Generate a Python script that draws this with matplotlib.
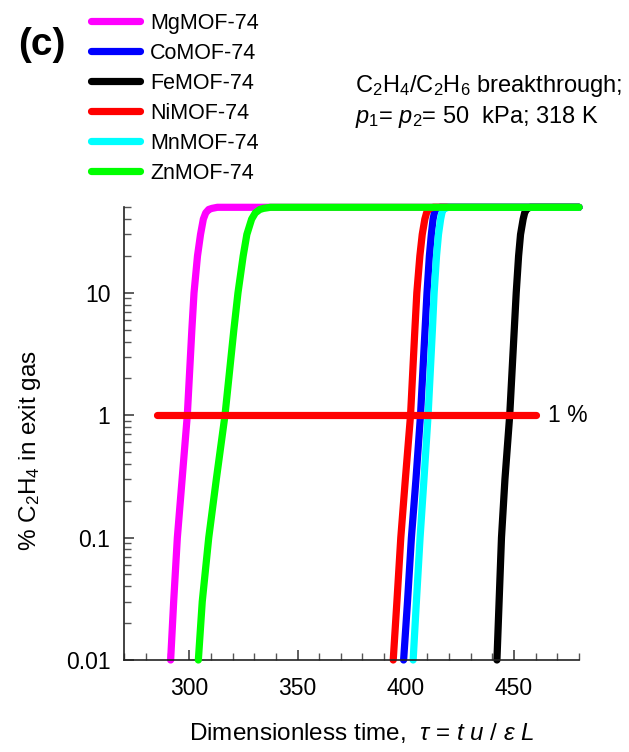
import matplotlib
matplotlib.use("Agg")
import matplotlib.pyplot as plt
from matplotlib.ticker import FixedLocator, FixedFormatter, NullFormatter

plt.rcParams['font.family'] = ['Liberation Sans', 'DejaVu Sans']
plt.rcParams['mathtext.fontset'] = 'custom'
plt.rcParams['mathtext.rm'] = 'Liberation Sans'
plt.rcParams['mathtext.it'] = 'Liberation Sans:italic'
plt.rcParams['mathtext.bf'] = 'Liberation Sans:bold'

# ---- data ----
materials = ["MgMOF-74", "CoMOF-74", "FeMOF-74", "NiMOF-74", "MnMOF-74", "ZnMOF-74"]
colors = ["#FF00FF", "#0000FF", "#000000", "#FF0000", "#00FFFF", "#00FF00"]
y_levels = [0.01, 0.03, 0.1, 0.3, 1, 5, 10, 20, 30, 40, 45, 48, 49, 50, 50]
tau_mg = [291.4, 292.8, 294.5, 296.7, 299.1, 301.2, 302.2, 303.8, 305.2, 306.5, 307.6, 309.0, 310.5, 313.0, 480]
tau_co = [399.0, 400.8, 402.6, 404.7, 406.8, 408.9, 409.8, 410.9, 411.8, 412.6, 413.2, 413.8, 414.6, 415.9, 480]
tau_fe = [442.1, 443.1, 444.2, 445.8, 448.0, 450.1, 451.0, 452.1, 453.0, 454.2, 454.9, 455.7, 456.4, 457.5, 480]
tau_ni = [394.2, 395.9, 397.7, 399.8, 402.2, 404.2, 405.1, 406.5, 407.6, 408.8, 409.6, 410.3, 411.2, 412.8, 480]
tau_mn = [403.4, 404.9, 406.6, 408.4, 410.3, 412.3, 413.1, 414.2, 415.1, 416.1, 416.7, 417.2, 418.2, 419.7, 480]
tau_zn = [304.2, 306.0, 309.0, 312.5, 316.5, 320.6, 322.5, 324.9, 326.6, 328.8, 330.5, 332.6, 334.3, 337.5, 480]
series = [tau_mg, tau_co, tau_fe, tau_ni, tau_mn, tau_zn]

one_pct_x = [285, 460]
one_pct_y = [1, 1]

x_ticks = [300, 350, 400, 450]
x_ticklabels = ["300", "350", "400", "450"]
y_ticks = [0.01, 0.1, 1, 10]
y_ticklabels = ["0.01", "0.1", "1", "10"]

W, H = 629, 752
fig = plt.figure(figsize=(W / 100, H / 100), dpi=100)

def fx(x):
    return x / W

def fy(y):
    return 1 - y / H

ax = fig.add_axes([fx(124.3), fy(660), (579 - 124.3) / W, (660 - 207.3) / H])

lines = []
for name, col, xs in zip(materials, colors, series):
    z = 3 if name == "ZnMOF-74" else 2
    ln, = ax.plot(xs, y_levels, color=col, lw=5.2, label=name,
                  solid_capstyle='round', solid_joinstyle='round',
                  clip_on=False, zorder=z)
    lines.append(ln)

ax.plot(one_pct_x, one_pct_y, color="#FF0000", lw=5.2,
        solid_capstyle='round', clip_on=False, zorder=4)
ax.text(465.5, 1, "1 %", fontsize=16.5, va='center', ha='left')

ax.set_yscale('log')
ax.set_xlim(270, 480)
ax.set_ylim(0.01, 50)

ax.xaxis.set_major_locator(FixedLocator(x_ticks))
ax.xaxis.set_major_formatter(FixedFormatter(x_ticklabels))
ax.xaxis.set_minor_locator(FixedLocator(list(range(270, 481, 10))))
ax.xaxis.set_minor_formatter(NullFormatter())

ax.yaxis.set_major_locator(FixedLocator(y_ticks))
ax.yaxis.set_major_formatter(FixedFormatter(y_ticklabels))
minors = []
for d in [0.01, 0.1, 1]:
    minors += [d * k for k in range(2, 10)]
minors += [20, 30, 40, 50]
ax.yaxis.set_minor_locator(FixedLocator(minors))
ax.yaxis.set_minor_formatter(NullFormatter())

for s in ['top', 'right']:
    ax.spines[s].set_visible(False)
for s in ['left', 'bottom']:
    ax.spines[s].set_linewidth(1.2)
    ax.spines[s].set_color('#222222')

ax.tick_params(which='major', direction='in', length=7, width=1.1,
               color='#333333', labelsize=16.5)
ax.tick_params(which='minor', direction='in', length=5, width=1.0,
               color='#555555')
ax.tick_params(axis='x', which='major', pad=12)
ax.tick_params(axis='y', which='major', pad=10)

leg = fig.legend(handles=lines, loc='upper left',
                 bbox_to_anchor=(fx(91), fy(12.5)),
                 frameon=False, fontsize=15.5, handlelength=2.28,
                 handletextpad=0.46, labelspacing=0.42,
                 borderpad=0, borderaxespad=0)

fig.text(fx(18), fy(45), "(c)", fontsize=28, fontweight='bold', va='center', ha='left')

fig.text(fx(355), fy(86), r"C$_2$H$_4$/C$_2$H$_6$ breakthrough;", fontsize=17,
         va='center', ha='left')
fig.text(fx(355), fy(117), r"$p_1$= $p_2$= 50  kPa; 318 K", fontsize=17,
         va='center', ha='left')

fig.text(fx(30), fy(450), r"% C$_2$H$_4$ in exit gas", fontsize=17.5,
         rotation=90, va='center', ha='center')
fig.text(fx(362), fy(733), r"Dimensionless time,  $\tau$ = $t$ $u$ / $\varepsilon$ $L$",
         fontsize=17.5, va='center', ha='center')

fig.savefig("out.png", dpi=100)
